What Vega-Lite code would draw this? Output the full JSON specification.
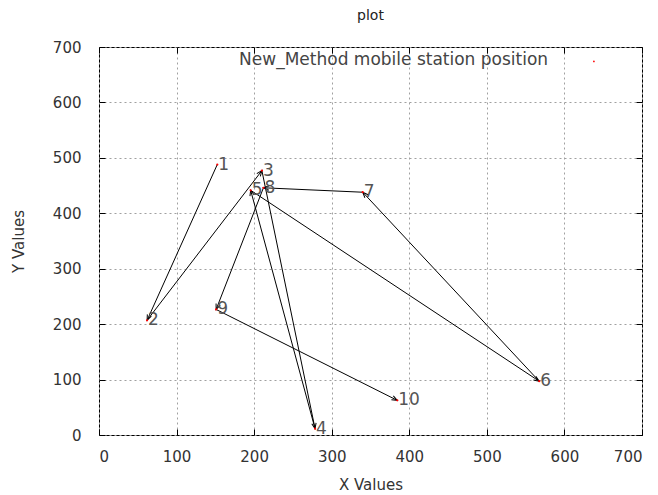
{
  "$schema": "https://vega.github.io/schema/vega-lite/v6.json",
  "width": 543,
  "height": 388,
  "autosize": {"type": "none"},
  "padding": {"left": 99, "top": 47, "right": 16, "bottom": 60},
  "background": "white",
  "title": {"text": "plot", "fontSize": 14, "font": "DejaVu Sans", "fontWeight": "normal", "color": "#222", "offset": 17},
  "config": {
    "view": {"stroke": "black", "strokeWidth": 1},
    "font": "DejaVu Sans",
    "axis": {
      "domain": false,
      "tickColor": "black",
      "tickSize": -6,
      "labelFontSize": 15,
      "labelColor": "#333",
      "titleFontSize": 15,
      "titleColor": "#333",
      "titleFontWeight": "normal",
      "gridColor": "#a0a0a0",
      "gridDash": [2, 3],
      "gridWidth": 1
    }
  },
  "datasets": {
    "pts": [
      {"id": 1, "x": 152.5, "y": 488},
      {"id": 2, "x": 62, "y": 207},
      {"id": 3, "x": 210, "y": 477},
      {"id": 4, "x": 278.5, "y": 11.5},
      {"id": 5, "x": 195.5, "y": 441.5},
      {"id": 6, "x": 567.5, "y": 97},
      {"id": 7, "x": 340, "y": 438},
      {"id": 8, "x": 212, "y": 446},
      {"id": 9, "x": 151, "y": 226.5},
      {"id": 10, "x": 384.5, "y": 62.5}
    ]
  },
  "data": {"name": "pts"},
  "resolve": {"axis": {"x": "independent", "y": "independent"}},
  "layer": [
    {
      "transform": [
        {"window": [{"op": "lead", "field": "x", "as": "nx"}, {"op": "lead", "field": "y", "as": "ny"}], "sort": [{"field": "id"}]},
        {"filter": "datum.nx != null"}
      ],
      "mark": {"type": "rule", "color": "black", "strokeWidth": 1},
      "encoding": {
        "x": {"field": "x", "type": "quantitative", "scale": {"domain": [0, 700], "nice": false},
              "axis": {"orient": "bottom", "values": [0,100,200,300,400,500,600,700], "title": "X Values", "labelPadding": 20, "titlePadding": 13, "grid": true}},
        "y": {"field": "y", "type": "quantitative", "scale": {"domain": [0, 700], "nice": false},
              "axis": {"orient": "left", "values": [0,100,200,300,400,500,600,700], "title": "Y Values", "labelPadding": 24, "titlePadding": 26, "grid": true}},
        "x2": {"field": "nx"},
        "y2": {"field": "ny"}
      }
    },
    {
      "transform": [
        {"window": [{"op": "lead", "field": "x", "as": "nx"}, {"op": "lead", "field": "y", "as": "ny"}], "sort": [{"field": "id"}]},
        {"filter": "datum.nx != null"},
        {"calculate": "atan2((datum.nx - datum.x) * 543, (datum.ny - datum.y) * 388) * 180 / PI", "as": "ang"}
      ],
      "mark": {"type": "point", "shape": "M -0.4 1 L 0 0 L 0.4 1", "filled": false, "color": "black", "strokeWidth": 1, "size": 120, "opacity": 1},
      "encoding": {
        "x": {"field": "nx", "type": "quantitative", "axis": {"orient": "top", "values": [0,100,200,300,400,500,600,700], "labels": false, "title": null, "grid": false}},
        "y": {"field": "ny", "type": "quantitative", "axis": {"orient": "right", "values": [0,100,200,300,400,500,600,700], "labels": false, "title": null, "grid": false}},
        "angle": {"field": "ang", "type": "quantitative", "scale": null}
      }
    },
    {
      "mark": {"type": "point", "filled": true, "color": "red", "size": 5, "opacity": 1},
      "encoding": {
        "x": {"field": "x", "type": "quantitative", "axis": null},
        "y": {"field": "y", "type": "quantitative", "axis": null}
      }
    },
    {
      "mark": {"type": "text", "align": "left", "baseline": "middle", "dx": 1, "fontSize": 17, "color": "#555", "font": "DejaVu Sans"},
      "encoding": {
        "x": {"field": "x", "type": "quantitative", "axis": null},
        "y": {"field": "y", "type": "quantitative", "axis": null},
        "text": {"field": "id", "type": "nominal"}
      }
    },
    {
      "data": {"values": [{"label": "New_Method mobile station position"}]},
      "mark": {"type": "text", "align": "right", "baseline": "middle", "fontSize": 17, "color": "#444", "font": "DejaVu Sans"},
      "encoding": {
        "x": {"datum": 579, "type": "quantitative", "axis": null},
        "y": {"datum": 677, "type": "quantitative", "axis": null},
        "text": {"field": "label", "type": "nominal"}
      }
    },
    {
      "data": {"values": [{"k": 1}]},
      "mark": {"type": "point", "filled": true, "color": "red", "size": 3, "opacity": 1},
      "encoding": {
        "x": {"datum": 638, "type": "quantitative", "axis": null},
        "y": {"datum": 674, "type": "quantitative", "axis": null}
      }
    }
  ]
}
